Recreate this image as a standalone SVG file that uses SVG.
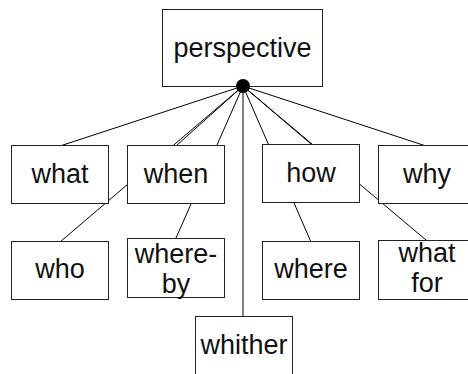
<svg xmlns="http://www.w3.org/2000/svg" width="468" height="374" viewBox="0 0 468 374">
<style>
.box{fill:#fff;stroke:#222;stroke-width:1}
.lbl{font-family:"Liberation Sans",Arial,sans-serif;font-size:27px;fill:#111;text-anchor:middle}
.conn line{stroke:#000;stroke-width:1}
</style>
<rect width="468" height="374" fill="#fff"/>
<g id="connectors" class="conn">
<line x1="243" y1="86" x2="60" y2="146"/>
<line x1="243" y1="86" x2="176" y2="146"/>
<line x1="243" y1="86" x2="60" y2="242"/>
<line x1="243" y1="86" x2="176" y2="238"/>
<line x1="243" y1="86" x2="311" y2="144"/>
<line x1="243" y1="86" x2="311" y2="242"/>
<line x1="243" y1="86" x2="426" y2="146"/>
<line x1="243" y1="86" x2="426" y2="240"/>
<line x1="243" y1="86" x2="243" y2="316"/>
</g>
<g id="perspective"><rect class="box" x="162.5" y="9.5" width="160" height="77"/><text class="lbl" x="242.5" y="56.5">perspective</text></g>
<g id="what"><rect class="box" x="11.5" y="145.5" width="97" height="58"/><text class="lbl" x="60" y="182.5">what</text></g>
<g id="when"><rect class="box" x="127.5" y="145.5" width="97" height="58"/><text class="lbl" x="176" y="182.5">when</text></g>
<g id="how"><rect class="box" x="262.5" y="144.5" width="97" height="58"/><text class="lbl" x="311" y="181.5">how</text></g>
<g id="why"><rect class="box" x="378.5" y="145.5" width="97" height="58"/><text class="lbl" x="427" y="182.5">why</text></g>
<g id="who"><rect class="box" x="11.5" y="241.5" width="97" height="58"/><text class="lbl" x="60" y="278">who</text></g>
<g id="whereby"><rect class="box" x="127.5" y="238.5" width="97" height="59"/><text class="lbl" x="176" y="263">where-</text><text class="lbl" x="176" y="293">by</text></g>
<g id="where"><rect class="box" x="262.5" y="241.5" width="97" height="58"/><text class="lbl" x="311" y="278">where</text></g>
<g id="whatfor"><rect class="box" x="378.5" y="240.5" width="97" height="59"/><text class="lbl" x="427" y="262">what</text><text class="lbl" x="427" y="292">for</text></g>
<g id="whither"><rect class="box" x="195.5" y="316.5" width="97" height="70"/><text class="lbl" x="244" y="354">whither</text></g>
<circle id="hub" cx="243" cy="86" r="7" fill="#000"/>
</svg>
